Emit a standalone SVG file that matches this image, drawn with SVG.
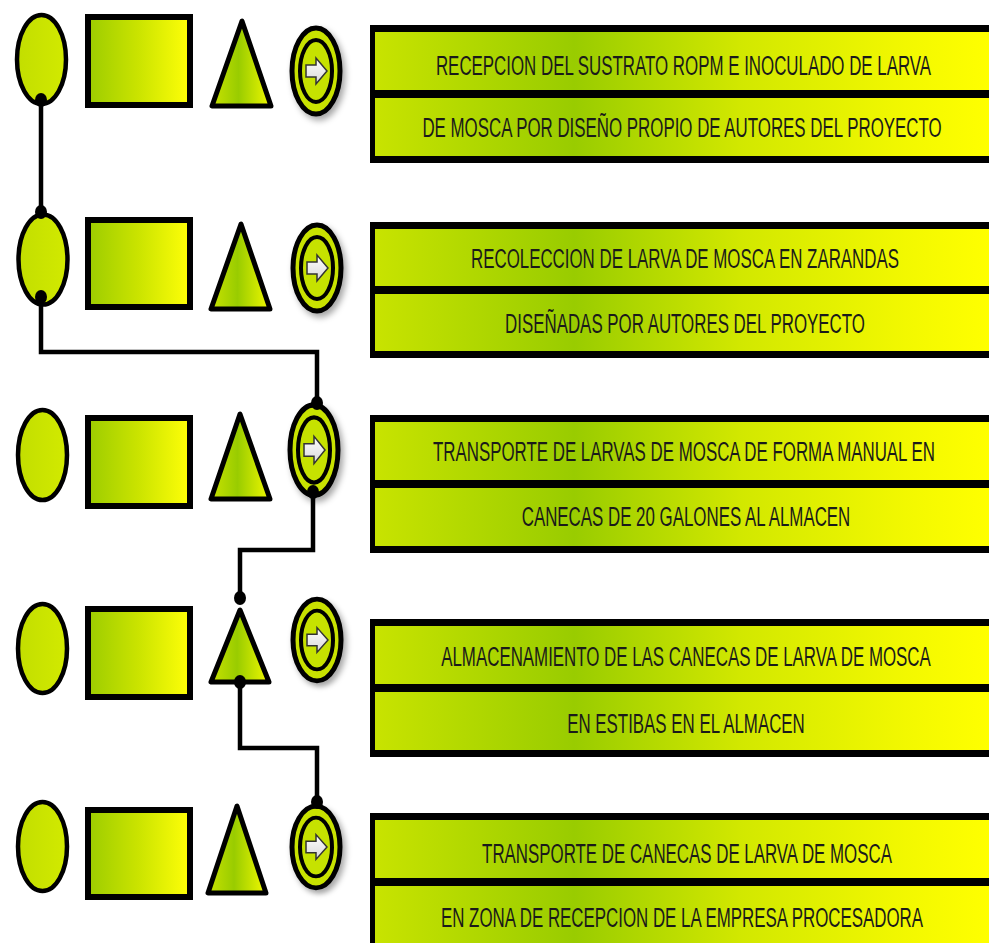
<svg xmlns="http://www.w3.org/2000/svg" width="989" height="943" viewBox="0 0 989 943">
<defs>
<linearGradient id="gBand" gradientUnits="userSpaceOnUse" x1="370" y1="0" x2="989" y2="0">
<stop offset="0" stop-color="#c9e400"/>
<stop offset="0.33" stop-color="#99cc00"/>
<stop offset="0.6" stop-color="#d2e800"/>
<stop offset="0.88" stop-color="#f4f900"/>
<stop offset="1" stop-color="#ffff00"/>
</linearGradient>
<linearGradient id="gRect" x1="0" y1="0" x2="1" y2="0">
<stop offset="0" stop-color="#9ccc00"/>
<stop offset="0.5" stop-color="#cbe400"/>
<stop offset="1" stop-color="#ffff08"/>
</linearGradient>
<linearGradient id="gEll" x1="0" y1="0" x2="1" y2="0">
<stop offset="0" stop-color="#c2de00"/>
<stop offset="1" stop-color="#d2ea00"/>
</linearGradient>
<linearGradient id="gTri" x1="0" y1="0" x2="1" y2="0">
<stop offset="0" stop-color="#c8e200"/>
<stop offset="0.45" stop-color="#99cc00"/>
<stop offset="1" stop-color="#f0f800"/>
</linearGradient>
<linearGradient id="gArrow" x1="0" y1="0" x2="0" y2="1">
<stop offset="0" stop-color="#ffffff"/>
<stop offset="1" stop-color="#d8d8d8"/>
</linearGradient>
<filter id="shadow" x="-30%" y="-30%" width="170%" height="170%">
<feDropShadow dx="3" dy="4" stdDeviation="3" flood-color="#000" flood-opacity="0.35"/>
</filter>
<g id="arrowSym">
<ellipse cx="0" cy="0" rx="24" ry="43" fill="#c8e200" stroke="#000" stroke-width="5"/>
<ellipse cx="0" cy="0" rx="16" ry="31" fill="#c6e200" stroke="#000" stroke-width="4"/>
<path d="M-10,-6 H0 V-13 L11,0 L0,13 V6 H-10 Z" fill="url(#gArrow)" stroke="#333" stroke-width="1.5" stroke-linejoin="miter"/>
</g>
</defs>
<style>
.ell{fill:url(#gEll);stroke:#000;stroke-width:4.5}
.rct{fill:url(#gRect);stroke:#000;stroke-width:6}
.tri{fill:url(#gTri);stroke:#000;stroke-width:5;stroke-linejoin:round}
.frame{fill:#000}
.band{fill:url(#gBand)}
.lbl{font-family:"Liberation Sans",Arial,sans-serif;font-size:28px;fill:#1a1a1a;text-anchor:middle}
.wire{fill:none;stroke:#000;stroke-width:4.5;stroke-linejoin:miter}
.dot{fill:#000}
.sh{filter:url(#shadow)}
</style>
<rect x="0" y="0" width="989" height="943" fill="#ffffff"/>

<g id="connectors">
<path class="wire" d="M41,100 V212"/>
<path class="wire" d="M41,297 V352 H317 V403"/>
<path class="wire" d="M313,492 V550 H240 V598"/>
<path class="wire" d="M240,682 V748 H317 V802"/>
</g>

<g id="row1">
<ellipse class="ell" cx="41.5" cy="59.5" rx="24.5" ry="44.5"/>
<rect class="rct" x="88" y="17" width="102" height="88"/>
<polygon class="tri" points="242,21 212,106 271,106"/>
<use href="#arrowSym" class="sh" transform="translate(316,71)"/>
</g>
<g id="row2">
<ellipse class="ell" cx="43" cy="259.5" rx="24.5" ry="45"/>
<rect class="rct" x="88" y="220" width="102" height="87"/>
<polygon class="tri" points="241,224 211,309 270,309"/>
<use href="#arrowSym" class="sh" transform="translate(317,268)"/>
</g>
<g id="row3">
<ellipse class="ell" cx="42.5" cy="455" rx="24.5" ry="45"/>
<rect class="rct" x="88" y="418" width="102" height="88"/>
<polygon class="tri" points="240,414 211,499 270,499"/>
<use href="#arrowSym" class="sh" transform="translate(314,450) scale(1,1.05)"/>
</g>
<g id="row4">
<ellipse class="ell" cx="42.5" cy="648.5" rx="24.5" ry="44.5"/>
<rect class="rct" x="88" y="609" width="102" height="88"/>
<polygon class="tri" points="240,610 211,682 269,682"/>
<use href="#arrowSym" class="sh" transform="translate(317,640) scale(1,0.95)"/>
</g>
<g id="row5">
<ellipse class="ell" cx="42.5" cy="846.5" rx="24.5" ry="44.5"/>
<rect class="rct" x="88" y="810" width="102" height="87"/>
<polygon class="tri" points="237,806 208,893 266,893"/>
<use href="#arrowSym" class="sh" transform="translate(316,847) scale(1,0.95)"/>
</g>

<g id="dots">
<ellipse class="dot" cx="41" cy="100" rx="6" ry="7"/>
<ellipse class="dot" cx="41" cy="212" rx="6" ry="7"/>
<ellipse class="dot" cx="41" cy="297" rx="6" ry="7"/>
<ellipse class="dot" cx="317" cy="403" rx="6" ry="7"/>
<ellipse class="dot" cx="313" cy="492" rx="6" ry="7"/>
<ellipse class="dot" cx="240" cy="598" rx="6" ry="7"/>
<ellipse class="dot" cx="240" cy="682" rx="6" ry="7"/>
<ellipse class="dot" cx="317" cy="802" rx="6" ry="7"/>
</g>

<g id="box1">
<rect class="frame" x="370" y="25" width="630" height="138"/>
<rect class="band" x="375" y="32" width="620" height="58"/>
<rect class="band" x="375" y="98" width="620" height="58"/>
<text class="lbl" transform="translate(683.5,75) scale(0.603,1)">RECEPCION DEL SUSTRATO ROPM E INOCULADO DE LARVA</text>
<text class="lbl" transform="translate(682,137) scale(0.603,1)">DE MOSCA POR DISEÑO PROPIO DE AUTORES DEL PROYECTO</text>
</g>
<g id="box2">
<rect class="frame" x="370" y="222" width="630" height="136"/>
<rect class="band" x="375" y="229" width="620" height="57"/>
<rect class="band" x="375" y="294" width="620" height="57"/>
<text class="lbl" transform="translate(685,268) scale(0.603,1)">RECOLECCION DE LARVA DE MOSCA EN ZARANDAS</text>
<text class="lbl" transform="translate(685,333) scale(0.603,1)">DISEÑADAS POR AUTORES DEL PROYECTO</text>
</g>
<g id="box3">
<rect class="frame" x="370" y="415" width="630" height="138"/>
<rect class="band" x="375" y="422" width="620" height="58"/>
<rect class="band" x="375" y="488" width="620" height="58"/>
<text class="lbl" transform="translate(684,461) scale(0.603,1)">TRANSPORTE DE LARVAS DE MOSCA DE FORMA MANUAL EN</text>
<text class="lbl" transform="translate(686,526) scale(0.603,1)">CANECAS DE 20 GALONES AL ALMACEN</text>
</g>
<g id="box4">
<rect class="frame" x="370" y="619" width="630" height="138"/>
<rect class="band" x="375" y="626" width="620" height="58"/>
<rect class="band" x="375" y="692" width="620" height="58"/>
<text class="lbl" transform="translate(686,666) scale(0.603,1)">ALMACENAMIENTO DE LAS CANECAS DE LARVA DE MOSCA</text>
<text class="lbl" transform="translate(686,733) scale(0.603,1)">EN ESTIBAS EN EL ALMACEN</text>
</g>
<g id="box5">
<rect class="frame" x="370" y="813" width="630" height="138"/>
<rect class="band" x="375" y="820" width="620" height="58"/>
<rect class="band" x="375" y="886" width="620" height="58"/>
<text class="lbl" transform="translate(687,863) scale(0.603,1)">TRANSPORTE DE CANECAS DE LARVA DE MOSCA</text>
<text class="lbl" transform="translate(682,927) scale(0.603,1)">EN ZONA DE RECEPCION DE LA EMPRESA PROCESADORA</text>
</g>
</svg>
